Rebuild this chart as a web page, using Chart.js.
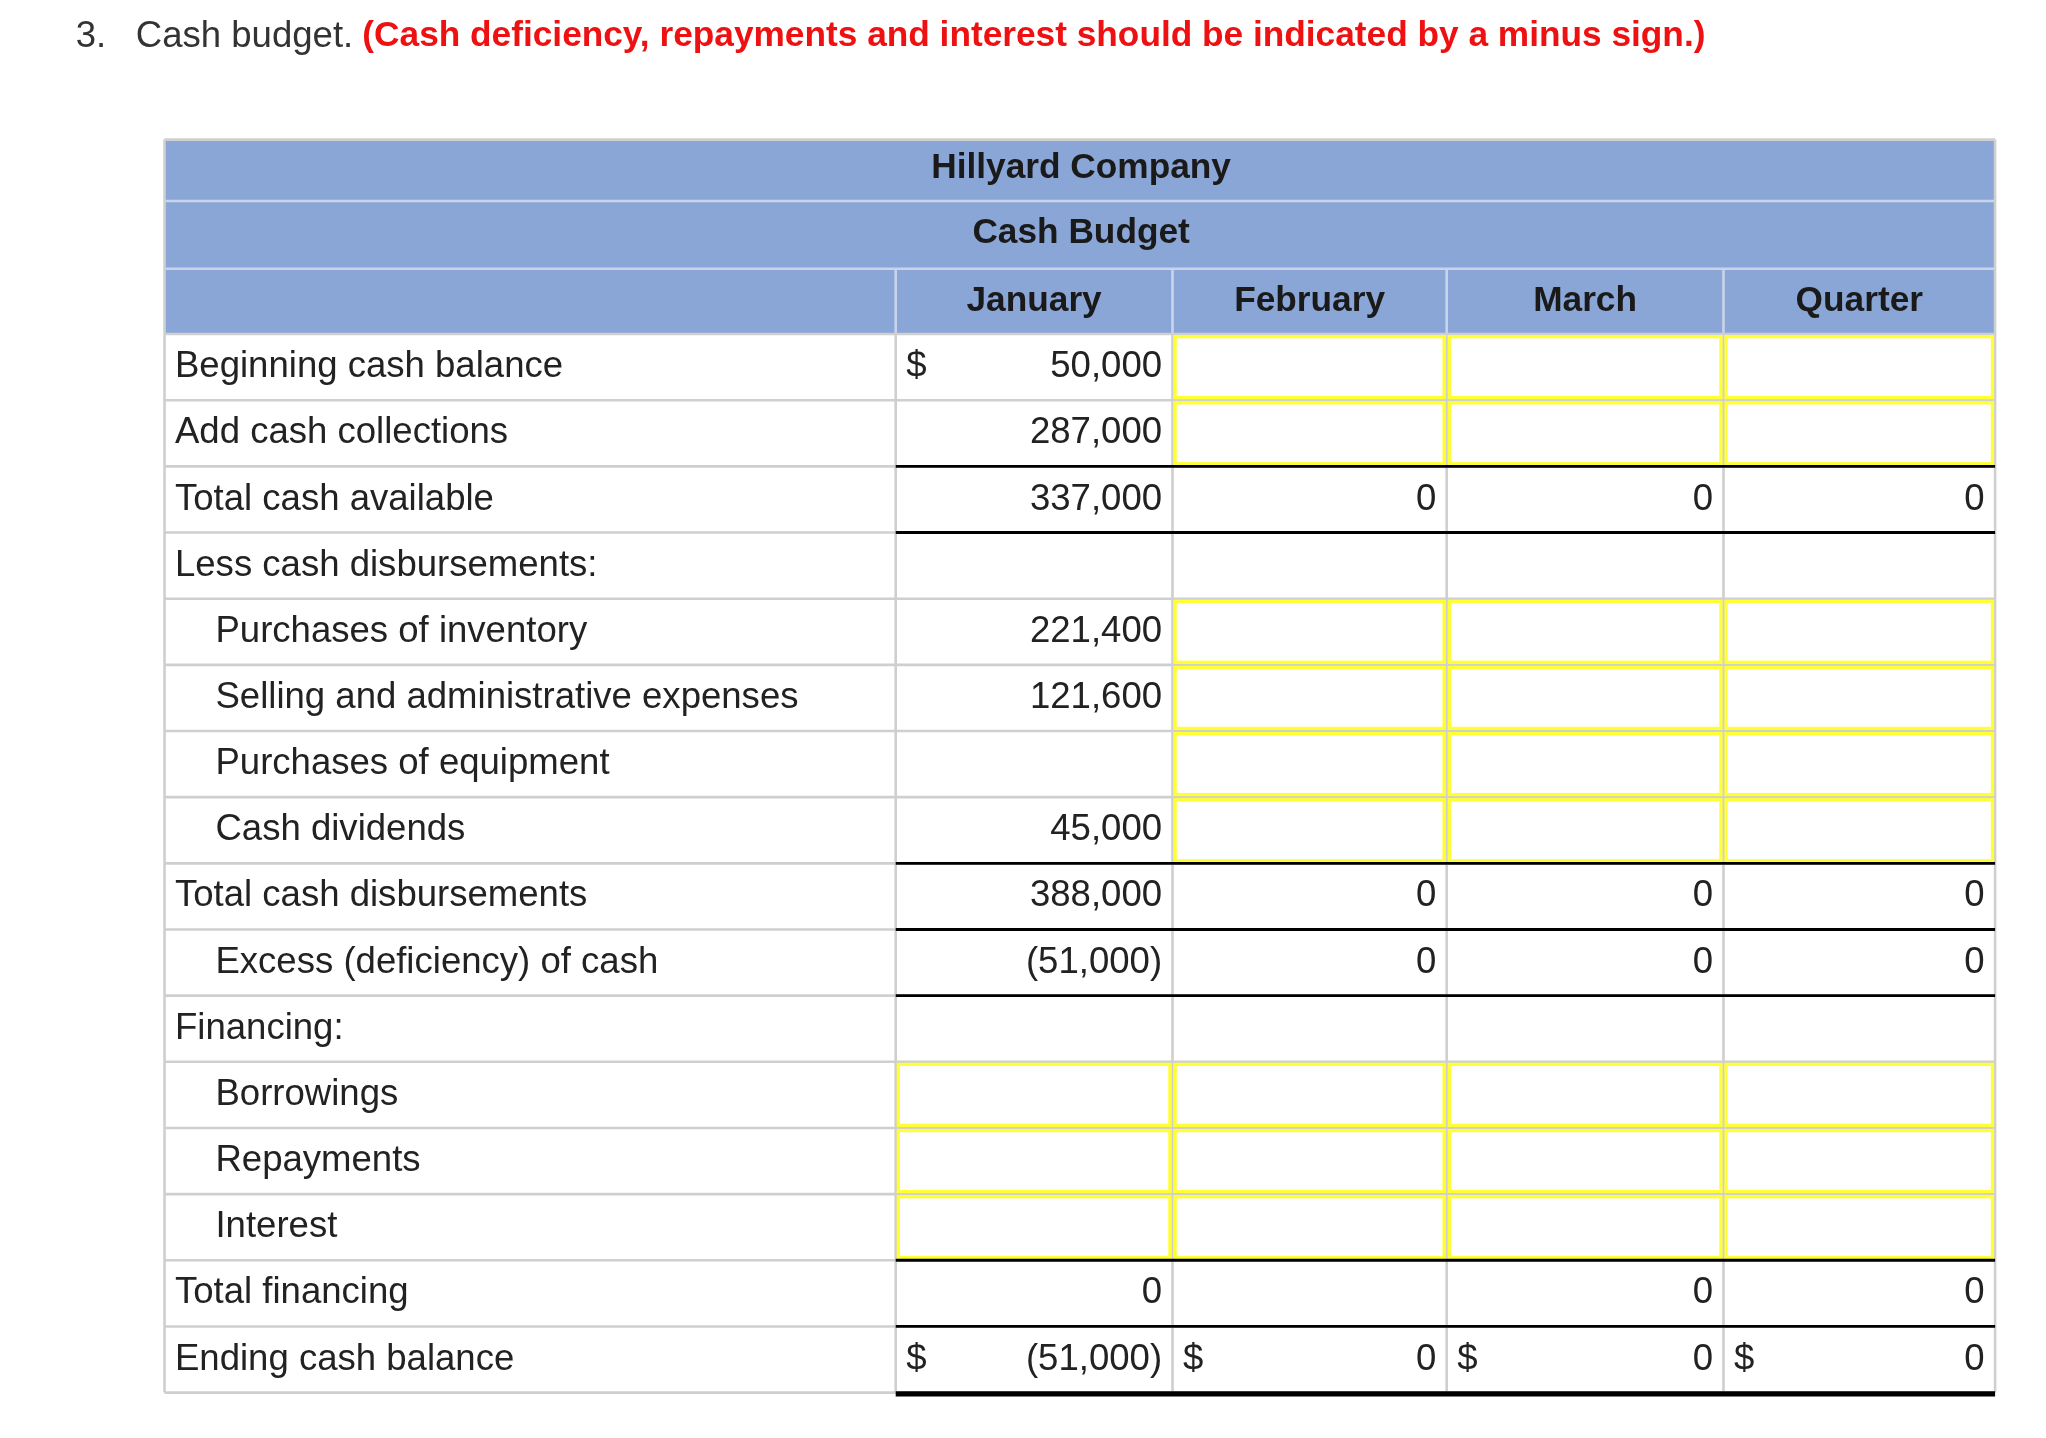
<!DOCTYPE html>
<html><head><meta charset="utf-8">
<script src="https://cdn.jsdelivr.net/npm/chart.js"></script>
<style>html,body{margin:0;padding:0;background:#fff}#w{width:2046px;height:1438px}</style>
</head><body><div id="w"><canvas id="c"></canvas></div>
<script>
const rowLabels = ["Beginning cash balance","Add cash collections","Total cash available","Less cash disbursements:","Purchases of inventory","Selling and administrative expenses","Purchases of equipment","Cash dividends","Total cash disbursements","Excess (deficiency) of cash","Financing:","Borrowings","Repayments","Interest","Total financing","Ending cash balance"];
const rowIndent = [0,0,0,0,1,1,1,1,0,1,0,1,1,1,0,0];
const columns = ["January","February","March","Quarter"];
const janValues = ["50,000","287,000","337,000","","221,400","121,600","","45,000","388,000","(51,000)","","","","","0","(51,000)"];
const febValues = ["","","0","","","","","","0","0","","","","","","0"];
const marValues = ["","","0","","","","","","0","0","","","","","0","0"];
const qtrValues = ["","","0","","","","","","0","0","","","","","0","0"];
const dollarRows = {0:[0],15:[0,1,2,3]};
const inputRows = {1:[0,1,4,5,6,7,11,12,13],2:[0,1,4,5,6,7,11,12,13],3:[0,1,4,5,6,7,11,12,13],0:[11,12,13]};
const thickTop = [2,3,8,9,10,14,15];
const titleNum = "3.";
const titleText = "Cash budget.";
const titleRed = "(Cash deficiency, repayments and interest should be indicated by a minus sign.)";
const company = "Hillyard Company";
const subtitle = "Cash Budget";

const colEdges = [126,686,898,1108,1320,1528];
const headEdges = [107,154,206,256];
const rowH = 50.7;
const FONT = "'Liberation Sans', Arial, sans-serif";
const vals = [janValues,febValues,marValues,qtrValues];

const tablePlugin = {
  id:'table',
  afterDraw(chart){
    const ctx = chart.ctx, xs = chart.scales.x, ys = chart.scales.y;
    const X = v=>xs.getPixelForValue(v), Y = v=>ys.getPixelForValue(v);
    const k = (X(1560)-X(0))/1560;
    const rowTop = i=>headEdges[3]+i*rowH;
    const L = colEdges[0], R = colEdges[5];
    ctx.save();
    ctx.textBaseline='middle';
    ctx.font = `${28*k}px ${FONT}`; ctx.fillStyle='#333'; ctx.textAlign='left';
    ctx.fillText(titleNum, X(58), Y(28));
    ctx.fillText(titleText, X(104), Y(28));
    const tw = ctx.measureText(titleText).width;
    ctx.font = `bold ${27*k}px ${FONT}`; ctx.fillStyle='#ee1111';
    ctx.fillText(titleRed, X(104)+tw+7*k, Y(28));
    ctx.fillStyle='#8aa6d6';
    ctx.fillRect(X(L),Y(headEdges[0]),X(R)-X(L),Y(headEdges[3])-Y(headEdges[0]));
    ctx.strokeStyle='#c9d4ea'; ctx.lineWidth=2*k;
    [headEdges[1],headEdges[2]].forEach(h=>{ctx.beginPath();ctx.moveTo(X(L),Y(h));ctx.lineTo(X(R),Y(h));ctx.stroke();});
    for(let c=1;c<5;c++){ctx.beginPath();ctx.moveTo(X(colEdges[c]),Y(headEdges[2]));ctx.lineTo(X(colEdges[c]),Y(headEdges[3]));ctx.stroke();}
    ctx.fillStyle='#1a1a1a'; ctx.textAlign='center'; ctx.font=`bold ${27*k}px ${FONT}`;
    ctx.fillText(company, X(828), Y(129));
    ctx.fillText(subtitle, X(828), Y(179));
    columns.forEach((c,i)=>ctx.fillText(c, X((colEdges[i+1]+colEdges[i+2])/2), Y(231)));
    ctx.strokeStyle='#cfcfcf'; ctx.lineWidth=2*k;
    const bottom=rowTop(rowLabels.length);
    for(let i=0;i<=rowLabels.length;i++){ctx.beginPath();ctx.moveTo(X(L),Y(rowTop(i)));ctx.lineTo(X(R),Y(rowTop(i)));ctx.stroke();}
    for(let c=0;c<6;c++){ctx.beginPath();ctx.moveTo(X(colEdges[c]),Y(c===0||c===5?headEdges[0]:headEdges[3]));ctx.lineTo(X(colEdges[c]),Y(bottom));ctx.stroke();}
    ctx.beginPath();ctx.moveTo(X(L),Y(headEdges[0]));ctx.lineTo(X(R),Y(headEdges[0]));ctx.stroke();
    ctx.strokeStyle='#ffff33'; ctx.lineWidth=2.5*k;
    Object.keys(inputRows).forEach(ci=>{
      const c=+ci;
      inputRows[c].forEach(r=>{
        const x0=X(colEdges[c+1]+2), x1=X(colEdges[c+2]-2), y0=Y(rowTop(r)+2), y1=Y(rowTop(r+1)-2);
        ctx.strokeRect(x0,y0,x1-x0,y1-y0);
      });
    });
    ctx.strokeStyle='#000'; ctx.lineWidth=2.2*k;
    thickTop.forEach(r=>{ctx.beginPath();ctx.moveTo(X(colEdges[1]),Y(rowTop(r)));ctx.lineTo(X(R),Y(rowTop(r)));ctx.stroke();});
    ctx.lineWidth=4*k;
    ctx.beginPath();ctx.moveTo(X(colEdges[1]),Y(bottom)+1*k);ctx.lineTo(X(R),Y(bottom)+1*k);ctx.stroke();
    ctx.font=`${28*k}px ${FONT}`; ctx.fillStyle='#222';
    rowLabels.forEach((lab,i)=>{
      const yc=Y(rowTop(i)+rowH/2);
      ctx.textAlign='left';
      ctx.fillText(lab, X(rowIndent[i]?165:134), yc);
      vals.forEach((arr,c)=>{
        if(arr[i]!==''){ctx.textAlign='right';ctx.fillText(arr[i], X(colEdges[c+2]-8), yc);}
      });
      (dollarRows[i]||[]).forEach(c=>{ctx.textAlign='left';ctx.fillText('$', X(colEdges[c+1]+8), yc);});
    });
    ctx.restore();
  }
};

new Chart(document.getElementById('c'),{
  type:'scatter',
  data:{datasets:[{data:[],pointRadius:0}]},
  options:{
    responsive:true, maintainAspectRatio:false, animation:false,
    layout:{padding:0},
    plugins:{legend:{display:false},tooltip:{enabled:false}},
    scales:{
      x:{type:'linear',min:0,max:1567,display:false},
      y:{type:'linear',min:0,max:1102,reverse:true,display:false}
    }
  },
  plugins:[tablePlugin]
});
</script>
</body></html>
